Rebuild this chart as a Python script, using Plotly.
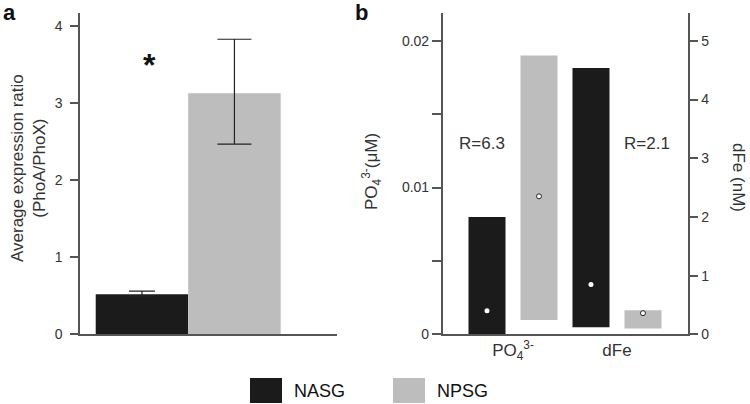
import plotly.graph_objects as go

# ---------------- data ----------------
series = ["NASG", "NPSG"]
colors = ["#1b1b1b", "#bdbdbd"]

# panel a: average expression ratio
ratio_mean = [0.52, 3.13]
ratio_err_plus = [0.04, 0.70]
ratio_err_minus = [0.02, 0.66]

# panel b: ranges (low/high) and mean per series
variables = ["PO<sub>4</sub><sup>3-</sup>", "dFe"]
po4_low = [0.0, 0.00097]
po4_high = [0.0080, 0.0190]
po4_mean = [0.0016, 0.0094]
dfe_low = [0.12, 0.10]
dfe_high = [4.54, 0.41]
dfe_mean = [0.85, 0.36]
ratios = ["R=6.3", "R=2.1"]

ticks_a = [0, 1, 2, 3, 4]
ticks_po4 = [0, 0.005, 0.01, 0.015, 0.02]
ticktext_po4 = ["0", "", "0.01", "", "0.02"]
ticks_dfe = [0, 1, 2, 3, 4, 5]

FONT = "Liberation Sans, Arial, sans-serif"
AXC = "#555555"
TXT = "#333333"

fig = go.Figure()

# ---------------- panel a ----------------
for i, s in enumerate(series):
    fig.add_trace(go.Bar(
        x=[i], y=[ratio_mean[i]], width=1, name=s,
        marker=dict(color=colors[i], line=dict(width=0)),
        error_y=dict(type="data", symmetric=False,
                     array=[ratio_err_plus[i]], arrayminus=[ratio_err_minus[i]],
                     color="#222222", thickness=1.2, width=13 if i == 0 else 17),
        xaxis="x", yaxis="y", showlegend=False))

# ---------------- panel b ----------------
offs = [-0.25, 0.25]
bw = 0.356
fig.add_trace(go.Bar(
    x=[0 + o for o in offs], base=po4_low,
    y=[h - l for h, l in zip(po4_high, po4_low)],
    width=bw, marker=dict(color=colors, line=dict(width=0)),
    xaxis="x2", yaxis="y2", showlegend=False))
fig.add_trace(go.Bar(
    x=[1 + o for o in offs], base=dfe_low,
    y=[h - l for h, l in zip(dfe_high, dfe_low)],
    width=bw, marker=dict(color=colors, line=dict(width=0)),
    xaxis="x2", yaxis="y3", showlegend=False))
dot_line = ["rgba(0,0,0,0)", "#222222"]
fig.add_trace(go.Scatter(
    x=[0 + o for o in offs], y=po4_mean, mode="markers",
    marker=dict(color="white", size=5, line=dict(color=dot_line, width=1)),
    xaxis="x2", yaxis="y2", showlegend=False))
fig.add_trace(go.Scatter(
    x=[1 + o for o in offs], y=dfe_mean, mode="markers",
    marker=dict(color="white", size=5, line=dict(color=dot_line, width=1)),
    xaxis="x2", yaxis="y3", showlegend=False))

ydom = [1 - 334.3 / 404, 1 - 13.3 / 404]
axis_common = dict(showline=True, linecolor=AXC, linewidth=1.5, showgrid=False,
                   zeroline=False, automargin=False,
                   tickfont=dict(family=FONT, size=14, color=TXT))

fig.update_layout(
    width=750, height=404,
    margin=dict(l=0, r=0, t=0, b=0, autoexpand=False),
    paper_bgcolor="white", plot_bgcolor="white",
    barmode="overlay", showlegend=False,
    font=dict(family=FONT, color=TXT),
    xaxis=dict(domain=[80 / 750, 337 / 750], range=[-0.67, 2.109],
               showticklabels=False, ticks="", **axis_common),
    yaxis=dict(domain=ydom, range=[0, 4.167], tickvals=ticks_a,
               ticks="outside", ticklen=8, tickcolor=AXC, tickwidth=1.5,
               ticklabelstandoff=5, anchor="x", **axis_common),
    xaxis2=dict(domain=[442.7 / 750, 687.7 / 750], range=[-0.676, 1.68],
                tickvals=[0, 1], ticktext=variables, ticks="",
                anchor="y2", **{**axis_common, "tickfont": dict(family=FONT, size=17, color=TXT)}),
    yaxis2=dict(domain=ydom, range=[0, 0.02187], tickvals=ticks_po4, ticktext=ticktext_po4,
                ticks="outside", ticklen=9, tickcolor=AXC, tickwidth=1.5,
                anchor="x2", **axis_common),
    yaxis3=dict(domain=ydom, range=[0, 5.47], tickvals=ticks_dfe, overlaying="y2",
                side="right", anchor="x2",
                ticks="outside", ticklen=9, tickcolor=AXC, tickwidth=1.5,
                **axis_common),
)

ann = []
def add_text(text, x, y, size, angle=0, color=TXT, xanchor="center", ref="paper"):
    if ref == "paper":
        x, y = x / 750, 1 - y / 404
    ann.append(dict(text=text, x=x, y=y, xref="paper" if ref == "paper" else "x",
                    yref="paper" if ref == "paper" else "y",
                    xanchor=xanchor, yanchor="middle", textangle=angle, showarrow=False,
                    font=dict(family=FONT, size=size, color=color)))

add_text("<b>a</b>", 1, 12, 22, color="#111", xanchor="left")
add_text("<b>b</b>", 353, 12, 22, color="#111", xanchor="left")
add_text("<b>*</b>", 0.08, 3.5, 32, color="#111", ref="data")
add_text("Average expression ratio<br>(PhoA/PhoX)", 29, 168, 17, angle=-90)
add_text("PO<sub>4</sub><sup>3-</sup>(μM)", 372, 172, 17, angle=-90)
add_text("dFe (nM)", 738, 177, 17, angle=90)
add_text(ratios[0], 482, 143, 17)
add_text(ratios[1], 647, 143, 17)

# legend drawn manually
shapes = []
leg_x = [250, 393]
for i, s in enumerate(series):
    x0 = leg_x[i]
    shapes.append(dict(type="rect", xref="paper", yref="paper",
                       x0=x0 / 750, x1=(x0 + 32) / 750,
                       y0=1 - 403 / 404, y1=1 - 378 / 404,
                       fillcolor=colors[i], line=dict(width=0)))
    add_text(s, x0 + 42, 391, 18, color="#111", xanchor="left")

fig.update_layout(annotations=ann, shapes=shapes)
fig.write_html("out.html", config={"displayModeBar": False},
               post_script="document.body.style.margin='0px';")
